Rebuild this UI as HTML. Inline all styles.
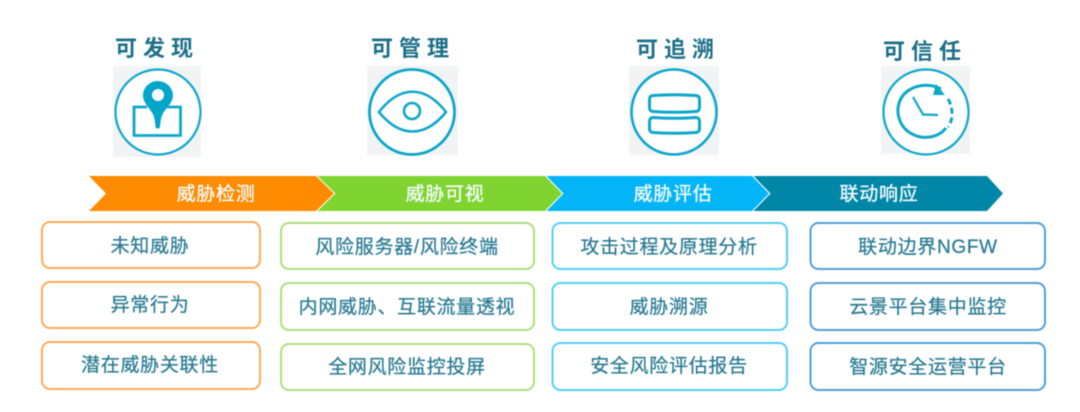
<!DOCTYPE html>
<html lang="zh"><head><meta charset="utf-8"><style>
html,body{margin:0;padding:0;background:#fff}
svg{display:block;filter:blur(.45px)}
text{font-family:"Liberation Sans","Noto Sans CJK SC",sans-serif;text-anchor:middle}
.t{font-size:22px;font-weight:700;fill:#1d7089;letter-spacing:6px}
.a{font-size:19px;fill:#f4fbfd;stroke:#f4fbfd;stroke-width:.35px;letter-spacing:.7px}
.b{font-size:19px;fill:#2a7b93;stroke:#2a7b93;stroke-width:.25px;letter-spacing:.7px}
.i{fill:none;stroke:#0ea7c9}
rect.o{fill:#fff;stroke:#ffaa58;stroke-width:2}
rect.g{fill:#fff;stroke:#addf7c;stroke-width:2}
rect.c{fill:#fff;stroke:#52cffb;stroke-width:2}
rect.d{fill:#fff;stroke:#529fd8;stroke-width:2}
</style></head><body>
<svg width="1080" height="412" viewBox="0 0 1080 412" xmlns="http://www.w3.org/2000/svg">
<rect width="1080" height="412" fill="#fff"/>
<text class="t" x="157" y="56">可发现</text>
<text class="t" x="413" y="56">可管理</text>
<text class="t" x="678" y="57">可追溯</text>
<text class="t" x="925" y="59">可信任</text>

<rect x="113" y="66" width="88" height="91" fill="#f1f3f5"/>
<rect x="367" y="66" width="91" height="89" fill="#f1f3f5"/>
<rect x="629" y="66" width="90" height="89" fill="#f1f3f5"/>
<rect x="881" y="66" width="89" height="88" fill="#f1f3f5"/>

<!-- icon 1 -->
<circle cx="158" cy="112" r="42.5" fill="#fff" stroke="#0ea7c9" stroke-width="2.2"/>
<path class="i" stroke-width="2.8" d="M147 107H134V135.500H180.500V107H167"/>
<path fill="#05a5ca" d="M158 81c-8.500 0-15 6.500-15 14.500 0 6.500 5 11 9 17 2.500 4 3 9 3.500 14.500.3 2 4.200 2 4.500 0 .5-5.500 1-10.500 3.500-14.500 4-6 9.500-10.500 9.500-17 0-8-7-14.500-15.500-14.500z"/>
<circle cx="158" cy="95" r="6" fill="#fff"/>

<!-- icon 2 -->
<circle cx="412" cy="112" r="42.500" fill="#fff" stroke="#0ea7c9" stroke-width="2.800"/>
<path class="i" stroke-width="2.600" d="M379 112C400 85 425 85 446 112C425 138 400 138 379 112Z"/>
<circle class="i" cx="412" cy="111" r="8" stroke-width="2.600"/>

<!-- icon 3 -->
<circle cx="674" cy="112" r="42.500" fill="#fff" stroke="#0ea7c9" stroke-width="2.600"/>
<path class="i" stroke-width="3" d="M649.500 100c0-3 1-4.500 4-4.500 13-1 28-1 42 0 3 0 4 1.500 4 4.500v7c0 3-1 4.500-4 4.500-14 1-29 1-42 0-3 0-4-1.500-4-4.500z"/>
<path class="i" stroke-width="3" d="M649.500 122c0-3 1-4.500 4-4.500 13 1 28 1 42 0 3 0 4 1.500 4 4.500v6c0 3-1 4.500-4 4.500-14 1-29 1-42 0-3 0-4-1.500-4-4.500z"/>

<!-- icon 4 -->
<circle cx="926" cy="112" r="42.500" fill="#fff" stroke="#0ea7c9" stroke-width="2.200"/>
<path class="i" stroke-width="3" d="M941 89C932 84 920 84 911 89C899 95 896 108 899 118C903 132 917 139 930 137C937 136 942 133 946 128"/>
<path class="i" stroke-width="3" stroke-dasharray="6 3.500" d="M948 99C952 105 953 114 951 121C950 124 949 126 948 127"/>
<path fill="#0ea7c9" d="M936 84L945 95L933 95Z"/>
<path class="i" stroke-width="2.200" d="M913 97L923 114.500L938 115"/>

<!-- arrows -->
<polygon points="753.500,176 987,176 1003,193.500 987,211 753.500,211 770.500,193.500" fill="#0087a8"/>
<polygon points="546.500,176 752,176 769,193.500 752,211 546.500,211 563.500,193.500" fill="#03b5f7"/>
<polygon points="317.500,176 545,176 562,193.500 545,211 317.500,211 335.500,193.500" fill="#7fd430"/>
<polygon points="89,176 316,176 334,193.500 316,211 89,211 106,193.500" fill="#ff8b00"/>

<text class="a" x="216" y="200">威胁检测</text>
<text class="a" x="445" y="200">威胁可视</text>
<text class="a" x="673" y="200">威胁评估</text>
<text class="a" x="879" y="200">联动响应</text>

<!-- orange -->
<rect class="o" x="42" y="222" width="218" height="46" rx="8"/>
<rect class="o" x="42" y="282" width="218" height="46" rx="8"/>
<rect class="o" x="42" y="342" width="218" height="47" rx="8"/>
<!-- green -->
<rect class="g" x="281" y="223" width="253" height="46" rx="8"/>
<rect class="g" x="281" y="283" width="253" height="47" rx="8"/>
<rect class="g" x="281" y="344" width="253" height="46" rx="8"/>
<!-- cyan -->
<rect class="c" x="552.500" y="223" width="234.500" height="46" rx="8"/>
<rect class="c" x="552.500" y="283" width="234.500" height="47" rx="8"/>
<rect class="c" x="552.500" y="343" width="234.500" height="47" rx="8"/>
<!-- deep -->
<rect class="d" x="810.500" y="223" width="234.500" height="46" rx="8"/>
<rect class="d" x="810.500" y="283" width="234.500" height="47" rx="8"/>
<rect class="d" x="810.500" y="343" width="234.500" height="47" rx="8"/>

<text class="b" x="150" y="252">未知威胁</text>
<text class="b" x="150" y="311">异常行为</text>
<text class="b" x="150" y="371">潜在威胁关联性</text>

<text class="b" x="407" y="253">风险服务器/风险终端</text>
<text class="b" x="407" y="313">内网威胁、互联流量透视</text>
<text class="b" x="407" y="373">全网风险监控投屏</text>

<text class="b" x="669" y="253">攻击过程及原理分析</text>
<text class="b" x="669" y="313">威胁溯源</text>
<text class="b" x="669" y="372">安全风险评估报告</text>

<text class="b" x="928" y="253">联动边界NGFW</text>
<text class="b" x="928" y="313">云景平台集中监控</text>
<text class="b" x="928" y="373">智源安全运营平台</text>
</svg>
</body></html>
